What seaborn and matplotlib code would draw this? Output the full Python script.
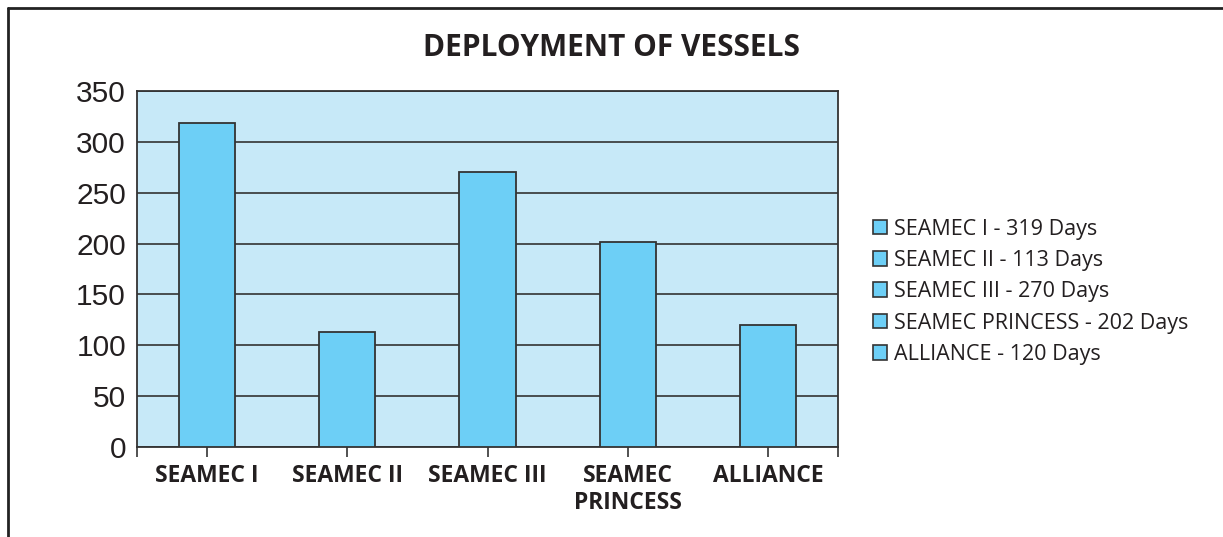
import matplotlib
matplotlib.use("Agg")
import matplotlib.pyplot as plt
import seaborn as sns
import pandas as pd
from matplotlib.lines import Line2D
from matplotlib.patches import Patch

vessels = ["SEAMEC I", "SEAMEC II", "SEAMEC III", "SEAMEC\nPRINCESS", "ALLIANCE"]
legend_names = ["SEAMEC I", "SEAMEC II", "SEAMEC III", "SEAMEC PRINCESS", "ALLIANCE"]
days = [319, 113, 270, 202, 120]
yticks = [0, 50, 100, 150, 200, 250, 300, 350]
title = "DEPLOYMENT OF VESSELS"

BAR = "#6DCFF6"
BG = "#C7E9F8"
DARK = "#231F20"
SANS = ["Open Sans", "DejaVu Sans"]

sns.set_theme(style="white")
plt.rcParams['font.family'] = ['Liberation Sans', 'DejaVu Sans']

df = pd.DataFrame({"vessel": vessels, "days": days})

fig = plt.figure(figsize=(12.23, 5.37), dpi=100)
ax = fig.add_axes([137/1223, 1-447/537, (838-137)/1223, (447-91)/537])
ax.set_facecolor(BG)

sns.barplot(data=df, x="vessel", y="days", hue="vessel",
            palette=[BAR]*len(vessels), saturation=1, width=0.4, dodge=False,
            edgecolor="#333333", linewidth=1.3, legend=False, ax=ax, zorder=3)

ax.set_ylim(0, 350)
ax.set_xlim(-0.5, len(vessels)-0.5)
ax.set_yticks(yticks)
ax.set_yticklabels([str(v) for v in yticks], fontsize=21.5, color=DARK)
ax.yaxis.grid(True, color="#333333", linewidth=1.2, zorder=1)
ax.set_axisbelow(True)
ax.tick_params(axis="y", length=0, pad=8)
ax.set_xticks(range(len(vessels)))
ax.set_xticklabels(vessels, fontsize=16.5, fontweight="bold", color=DARK,
                   family=SANS, linespacing=1.2)
ax.set_xticks([-0.5, len(vessels)-0.5], minor=True)
ax.tick_params(axis="x", which="both", direction="out", length=7, width=1.2,
               color="#333333", bottom=True, pad=5)
ax.set_xlabel("")
ax.set_ylabel("")
for s in ax.spines.values():
    s.set_color("#333333")
    s.set_linewidth(1.3)

handles = [Patch(facecolor=BAR, edgecolor="#333333", linewidth=1.2) for _ in vessels]
labels = [f"{n} - {d} Days" for n, d in zip(legend_names, days)]
leg = fig.legend(handles, labels, loc="upper left", bbox_to_anchor=(864/1223, 1-210/537),
                 frameon=False, prop={"family": SANS, "size": 15.5},
                 handlelength=0.68, handleheight=0.68, handletextpad=0.3,
                 labelspacing=0.48, borderaxespad=0)
for t in leg.get_texts():
    t.set_color(DARK)

fig.text(0.5, 1-48/537, title, ha="center", va="center", fontsize=21.5,
         fontweight="bold", color=DARK, family=SANS)

fig.add_artist(Line2D([8/1223, 1.0], [1-8/537, 1-8/537], color="#222222", linewidth=2))
fig.add_artist(Line2D([8/1223, 8/1223], [1-8/537, 0], color="#222222", linewidth=2))

fig.savefig("out.png", dpi=100)
